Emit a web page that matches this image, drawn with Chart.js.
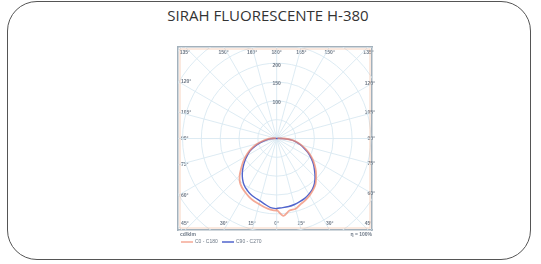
<!DOCTYPE html>
<html>
<head>
<meta charset="utf-8">
<script src="https://cdn.jsdelivr.net/npm/chart.js@4.4.1/dist/chart.umd.min.js"></script>
<style>
  html, body { margin: 0; padding: 0; background: #fff; }
  #wrap { position: relative; width: 541px; height: 264px; overflow: hidden; }
  #box { position: absolute; left: 7px; top: 1px; width: 524px; height: 259px; border: 1.3px solid #555; border-radius: 30px; box-sizing: border-box; }
  #title { position: absolute; left: 0; width: 536px; top: 5px; text-align: center; font: 15px "Open Sans"; color: #333; }
  canvas { position: absolute; left: 0; top: 0; }
</style>
</head>
<body>
<div id="wrap">
  <div id="box"></div>
  <div id="title">SIRAH FLUORESCENTE H-380</div>
  <canvas id="grafica" width="541" height="264"></canvas>
</div>
<script>
// gamma angles (0 = straight down), cd/klm
const angulos = [0, 5, 10, 15, 20, 25, 30, 35, 40, 45, 50, 55, 60, 65, 70, 75, 80, 85, 90, 95, 100];
const c0 = [190, 207, 195, 194, 186, 181, 175, 168, 160, 148, 136, 123, 110, 96, 82, 68, 54, 40, 20, 7, 2];
const c180 = [192, 190, 186, 181, 177, 172, 166, 160, 152, 139, 123, 109, 95, 81, 67, 52, 38, 26, 16, 7, 2];
const c90 = [186, 185, 184, 182, 179, 176, 171, 165, 156, 144, 131, 119, 106, 93, 78, 65, 52, 36, 14, 4, 0];
const c270 = [187, 185, 178, 172, 168, 164, 158, 151, 141, 129, 116, 103, 90, 78, 62, 47, 32, 20, 10, 4, 0];

const circulos = [50, 100, 150, 200, 250, 300, 350];
const valoresRadio = [100, 150, 200];
const etiquetasAbajo = ['45°', '30°', '15°', '0°', '15°', '30°', '45°'];
const etiquetasArriba = ['135°', '150°', '165°', '180°', '165°', '150°', '135°'];
const etiquetasLado = ['120°', '105°', '90°', '75°', '60°'];
const angAbajo = [-45, -30, -15, 0, 15, 30, 45];
const angLado = [120, 105, 90, 75, 60];

const xMin = -262;
const xMax = 253;
const yMax = 243.75;
const rad = (g) => g * Math.PI / 180;

const polar = (g, v, lado) => ({ x: lado * v * Math.sin(rad(g)), y: -v * Math.cos(rad(g)) });
const curva = (izq, der) => {
  const pts = [];
  for (let i = angulos.length - 1; i >= 0; i -= 1) pts.push(polar(angulos[i], izq[i], -1));
  for (let i = 0; i < angulos.length; i += 1) pts.push(polar(angulos[i], der[i], 1));
  return pts;
};

// where each spoke meets the frame
const ticksAbajo = angAbajo.map((g) => yMax * Math.tan(rad(g)));
const ticksIzq = angLado.map((g) => xMin / Math.tan(rad(g)));
const ticksDer = angLado.map((g) => -xMax / Math.tan(rad(g)));

const colorTxt = '#6d7886';
const fuente = { family: 'Liberation Sans', size: 5, weight: 'bold' };

const eje = (pos, valores, etiquetas, extra) => ({
  type: 'linear',
  position: pos,
  ...extra,
  grid: { display: false, drawTicks: false },
  border: { display: true, color: '#a3b1bc', width: 1.5 },
  ticks: {
    mirror: true,
    padding: 3,
    autoSkip: false,
    maxRotation: 0,
    color: colorTxt,
    font: fuente,
    callback: (v, i) => etiquetas[i],
  },
  afterBuildTicks: (axis) => {
    // eslint-disable-next-line no-param-reassign
    axis.ticks = valores.map((v) => ({ value: v }));
  },
});

const rejilla = {
  id: 'rejilla',
  beforeDatasetsDraw(chart) {
    const { ctx, chartArea: { left, top, right, bottom }, scales: { x, y } } = chart;
    const cx = x.getPixelForValue(0);
    const cy = y.getPixelForValue(0);
    const k = (x.getPixelForValue(100) - cx) / 100;
    ctx.save();
    ctx.beginPath();
    ctx.rect(left, top, right - left, bottom - top);
    ctx.clip();
    ctx.strokeStyle = '#d9e9f2';
    ctx.lineWidth = 0.9;
    circulos.forEach((c) => {
      ctx.beginPath();
      ctx.arc(cx, cy, c * k, 0, Math.PI * 2);
      ctx.stroke();
    });
    for (let g = 0; g < 360; g += 15) {
      ctx.beginPath();
      ctx.moveTo(cx, cy);
      ctx.lineTo(cx + Math.sin(rad(g)) * 300, cy + Math.cos(rad(g)) * 300);
      ctx.stroke();
    }
    ctx.strokeStyle = 'rgba(240,170,130,0.5)';
    ctx.lineWidth = 1;
    ctx.strokeRect(left + 2, top + 2, right - left - 4, bottom - top - 4);
    ctx.fillStyle = colorTxt;
    ctx.font = 'bold 5px "Liberation Sans"';
    ctx.textAlign = 'center';
    ctx.textBaseline = 'middle';
    valoresRadio.forEach((v) => {
      ctx.fillText(String(v), cx, cy - v * k + 2);
    });
    ctx.restore();
  },
  afterDraw(chart) {
    const { ctx, chartArea: { left, right, bottom } } = chart;
    ctx.save();
    ctx.fillStyle = colorTxt;
    ctx.textBaseline = 'middle';
    ctx.font = 'bold 5px "Liberation Sans"';
    ctx.textAlign = 'left';
    ctx.fillText('cd/klm', left + 2, bottom + 5);
    ctx.font = '5px "Liberation Sans"';
    ctx.fillText('C0 - C180', left + 17, bottom + 12);
    ctx.fillText('C90 - C270', left + 58, bottom + 12);
    ctx.lineWidth = 1.5;
    ctx.strokeStyle = 'rgba(240,140,115,0.75)';
    ctx.beginPath();
    ctx.moveTo(left + 3, bottom + 12);
    ctx.lineTo(left + 15, bottom + 12);
    ctx.stroke();
    ctx.strokeStyle = '#5064cc';
    ctx.beginPath();
    ctx.moveTo(left + 44, bottom + 12);
    ctx.lineTo(left + 56, bottom + 12);
    ctx.stroke();
    ctx.textAlign = 'right';
    ctx.font = 'bold 5px "Liberation Sans"';
    ctx.fillText('\u03b7 = 100%', right, bottom + 5);
    ctx.restore();
  },
};

// eslint-disable-next-line no-new, no-undef
new Chart(document.getElementById('grafica'), {
  type: 'scatter',
  data: {
    datasets: [
      {
        label: 'C0 - C180',
        data: curva(c180, c0),
        showLine: true,
        borderColor: 'rgba(240,140,115,0.75)',
        borderWidth: 1.8,
        pointRadius: 0,
        tension: 0.3,
      },
      {
        label: 'C90 - C270',
        data: curva(c270, c90),
        showLine: true,
        borderColor: '#5064cc',
        borderWidth: 1.4,
        pointRadius: 0,
        tension: 0.3,
      },
    ],
  },
  options: {
    responsive: false,
    animation: false,
    devicePixelRatio: 1,
    layout: { padding: { left: 172, right: 163, top: 41, bottom: 28 } },
    plugins: { legend: { display: false }, tooltip: { enabled: false } },
    scales: {
      x: eje('bottom', ticksAbajo, etiquetasAbajo, { min: xMin, max: xMax }),
      x2: eje('top', ticksAbajo, etiquetasArriba, { axis: 'x', min: xMin, max: xMax }),
      y: eje('left', ticksIzq, etiquetasLado, { min: -yMax, max: yMax }),
      y2: eje('right', ticksDer, etiquetasLado, { axis: 'y', min: -yMax, max: yMax }),
    },
  },
  plugins: [rejilla],
});
</script>
</body>
</html>
